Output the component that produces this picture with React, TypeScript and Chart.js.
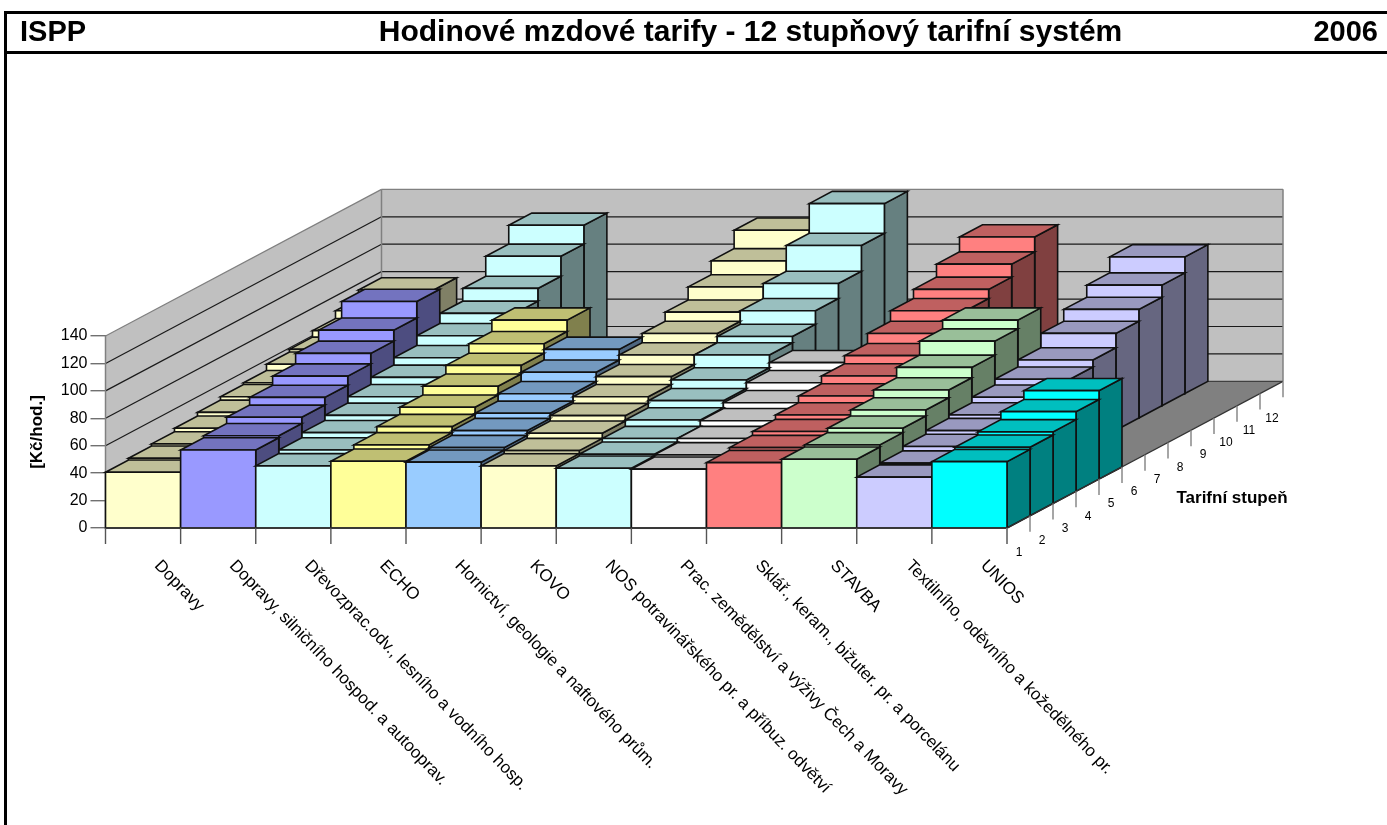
import React, { useEffect, useRef } from "react";
import { Chart, registerables } from "chart.js";

Chart.register(...registerables);

const categories = [
  "Dopravy",
  "Dopravy, silničního hospod. a autooprav.",
  "Dřevozprac.odv., lesního a vodního hosp.",
  "ECHO",
  "Hornictví, geologie a naftového prům.",
  "KOVO",
  "NOS potravinářského pr. a příbuz. odvětví",
  "Prac. zemědělství a výživy Čech a Moravy",
  "Sklář., keram., bižuter. pr. a porcelánu",
  "STAVBA",
  "Textilního, oděvního a kožedělného pr.",
  "UNIOS",
];
const tierLabels = ["1", "2", "3", "4", "5", "6", "7", "8", "9", "10", "11", "12"];
const yTicks = [0, 20, 40, 60, 80, 100, 120, 140];
const categoryColors = ["#FFFFCC", "#9999FF", "#CCFFFF", "#FFFF99", "#99CCFF", "#FFFFCC", "#CCFFFF", "#FFFFFF", "#FF8080", "#CCFFCC", "#CCCCFF", "#00FFFF"];

const tier1 = [40.7, 56.9, 45.3, 48.7, 48, 45.3, 43.6, 42.9, 47.7, 50.1, 37.1, 48.4];
const tier2 = [42, 58.4, 48, 51.7, 49.7, 47.5, 44.9, 44.4, 49.7, 51.7, 38.4, 50];
const tier3 = [43.5, 62.9, 51.7, 56.1, 53.2, 51.3, 47.4, 47.4, 52.5, 54.9, 41.6, 52.3];
const tier4 = [46, 68.5, 55.4, 61.3, 56.9, 55.2, 52, 51.5, 55.7, 59.3, 44.3, 58.1];
const tier5 = [48.7, 75.1, 60.1, 67.7, 62.3, 60.1, 57.2, 55.7, 60.6, 65, 46.8, 64.5];
const tier6 = [51.2, 82.8, 65.3, 74, 69, 65.8, 63.4, 61.4, 66.3, 72.6, 50.8, null];
const tier7 = [52.5, 90.8, 70.7, 80.9, 76.8, 72.7, 72.7, 67.1, 72.2, 82.8, 55, null];
const tier8 = [57, 102.8, 77.8, 89.2, null, 79.5, 77.3, null, 79.5, 89.2, 60.1, null];
const tier9 = [59, null, 85.2, null, null, 86.1, 87.1, null, 87.1, null, 70.6, null];
const tier10 = [63.7, null, 94.5, null, null, 95.6, 98.1, null, 93.8, null, 79.2, null];
const tier11 = [69.3, null, 109, null, null, 105.7, 116.9, null, 103.3, null, 88, null];
const tier12 = [75.5, null, 122.7, null, null, 119.1, 138.5, null, 114.2, null, 99.7, null];
const tiers = [tier1, tier2, tier3, tier4, tier5, tier6, tier7, tier8, tier9, tier10, tier11, tier12];

const W = 1387;
const H = 825;
const PLOT = { left: 105.5, right: 1007, top: 336, bottom: 528 };
const DX = 23;
const DY = -12.22;
const SANS = '"Liberation Sans", Arial, sans-serif';

function shade(hex: string, f: number) {
  const n = parseInt(hex.slice(1), 16);
  const r = Math.round(((n >> 16) & 255) * f);
  const g = Math.round(((n >> 8) & 255) * f);
  const b = Math.round((n & 255) * f);
  return `rgb(${r},${g},${b})`;
}

function poly(ctx: CanvasRenderingContext2D, pts: number[][], fill: string | null, stroke: string | null, lw = 1) {
  ctx.beginPath();
  pts.forEach((p, i) => (i ? ctx.lineTo(p[0], p[1]) : ctx.moveTo(p[0], p[1])));
  ctx.closePath();
  if (fill) {
    ctx.fillStyle = fill;
    ctx.fill();
  }
  if (stroke) {
    ctx.strokeStyle = stroke;
    ctx.lineWidth = lw;
    ctx.stroke();
  }
}

function line(ctx: CanvasRenderingContext2D, x1: number, y1: number, x2: number, y2: number, color: string, lw = 1) {
  ctx.beginPath();
  ctx.moveTo(x1, y1);
  ctx.lineTo(x2, y2);
  ctx.strokeStyle = color;
  ctx.lineWidth = lw;
  ctx.stroke();
}

function text(ctx: CanvasRenderingContext2D, s: string, x: number, y: number, font: string, align: CanvasTextAlign = "center", angle = 0) {
  ctx.save();
  ctx.translate(x, y);
  ctx.rotate(angle);
  ctx.font = font;
  ctx.fillStyle = "#000";
  ctx.textAlign = align;
  ctx.textBaseline = "middle";
  ctx.fillText(s, 0, 0);
  ctx.restore();
}

const bars3d = {
  id: "bars3d",
  beforeDatasetsDraw(chart: any) {
    const ctx: CanvasRenderingContext2D = chart.ctx;
    const xs = chart.scales.x;
    const ys = chart.scales.y;
    const y0 = ys.getPixelForValue(0);
    const left = chart.chartArea.left;
    const right = chart.chartArea.right;
    const n = tiers.length;
    const bw = (right - left) / categories.length;
    const backDx = DX * n;
    const backDy = DY * n;
    const yTop = ys.getPixelForValue(yTicks[yTicks.length - 1]);

    ctx.save();
    ctx.lineJoin = "miter";

    // page frame and header
    ctx.fillStyle = "#000";
    ctx.fillRect(4, 11, W - 4, 3);
    ctx.fillRect(4, 51, W - 4, 3);
    ctx.fillRect(4, 11, 3, H - 11);
    text(ctx, "ISPP", 20, 33, `bold 29px ${SANS}`, "left");
    text(ctx, "Hodinové mzdové tarify - 12 stupňový tarifní systém", 750.5, 33, `bold 30px ${SANS}`);
    text(ctx, "2006", 1378, 33, `bold 29px ${SANS}`, "right");

    // walls and floor
    poly(ctx, [[left, y0], [left + backDx, y0 + backDy], [right + backDx, y0 + backDy], [right, y0]], "#808080", null);
    poly(ctx, [[left, y0], [left + backDx, y0 + backDy], [left + backDx, yTop + backDy], [left, yTop]], "#C0C0C0", null);
    poly(ctx, [[left + backDx, y0 + backDy], [right + backDx, y0 + backDy], [right + backDx, yTop + backDy], [left + backDx, yTop + backDy]], "#C0C0C0", null);
    yTicks.forEach((v, i) => {
      const y = ys.getPixelForValue(v);
      const c = i === yTicks.length - 1 ? "#808080" : i === 0 ? "#404040" : "#1a1a1a";
      line(ctx, left, y, left + backDx, y + backDy, c, 1.2);
      line(ctx, left + backDx, y + backDy, right + backDx, y + backDy, c, 1.2);
    });
    line(ctx, left, y0, left, yTop, "#808080", 1.5);
    line(ctx, left + backDx, y0 + backDy, left + backDx, yTop + backDy, "#808080", 1.5);
    line(ctx, right + backDx, y0 + backDy, right + backDx, yTop + backDy, "#808080", 1.5);

    // bars, back to front
    for (let t = n - 1; t >= 0; t--) {
      const data = chart.data.datasets[t].data;
      for (let c = 0; c < categories.length; c++) {
        const v = data[c];
        if (v == null) continue;
        const color = categoryColors[c];
        const x1 = xs.getPixelForValue(c) - bw / 2 + DX * t;
        const x2 = x1 + bw;
        const yb = y0 + DY * t;
        const yt = ys.getPixelForValue(v) + DY * t;
        const lw = 1.6;
        poly(ctx, [[x2, yb], [x2 + DX, yb + DY], [x2 + DX, yt + DY], [x2, yt]], shade(color, 0.5), "#111", lw);
        poly(ctx, [[x1, yt], [x2, yt], [x2 + DX, yt + DY], [x1 + DX, yt + DY]], shade(color, 0.75), "#111", lw);
        poly(ctx, [[x1, yb], [x2, yb], [x2, yt], [x1, yt]], color, "#111", lw);
      }
    }

    // category axis
    line(ctx, left, y0, right, y0, "#333", 1.5);
    for (let c = 0; c <= categories.length; c++) {
      const x = left + bw * c;
      line(ctx, x, y0, x, y0 + 16, "#555", 1.4);
    }
    categories.forEach((label, c) => {
      text(ctx, label, xs.getPixelForValue(c) + 14, y0 + 35, `17px ${SANS}`, "left", (46 * Math.PI) / 180);
    });

    // depth axis
    line(ctx, right, y0, right + backDx, y0 + backDy, "#333", 1.2);
    for (let t = 0; t <= n; t++) {
      const x = right + DX * t;
      const y = y0 + DY * t;
      line(ctx, x, y, x, y + 16, "#808080", 1.4);
      if (t < n) text(ctx, tierLabels[t], x + DX / 2 + 0.5, y + DY / 2 + 31, `12px ${SANS}`);
    }
    text(ctx, "Tarifní stupeň", 1232, 498, `bold 17px ${SANS}`);
    text(ctx, "[Kč/hod.]", 37, 432, `bold 17px ${SANS}`, "center", -Math.PI / 2);

    ctx.restore();
    return false;
  },
};

export default function App() {
  const ref = useRef<HTMLCanvasElement>(null);
  useEffect(() => {
    document.body.style.margin = "0";
    document.body.style.background = "#fff";
    const chart = new Chart(ref.current as HTMLCanvasElement, {
      type: "bar",
      data: {
        labels: categories,
        datasets: tiers.map((data, i) => ({ label: tierLabels[i], data: data as any })),
      },
      options: {
        responsive: false,
        animation: false,
        devicePixelRatio: 1,
        layout: { padding: { left: 0, top: PLOT.top, right: W - PLOT.right, bottom: 0 } },
        plugins: { legend: { display: false }, tooltip: { enabled: false }, title: { display: false } },
        scales: {
          x: {
            type: "category",
            offset: true,
            border: { display: false },
            grid: { display: false },
            ticks: { display: false },
            afterFit: (s: any) => {
              s.height = H - PLOT.bottom;
            },
          },
          y: {
            type: "linear",
            min: 0,
            max: 140,
            border: { display: false },
            grid: { drawOnChartArea: false, drawTicks: true, tickLength: 15, lineWidth: 1.4, color: "#707070" },
            ticks: {
              stepSize: 20,
              padding: 3,
              color: "#000",
              font: { family: SANS, size: 16 },
            },
            afterFit: (s: any) => {
              s.width = PLOT.left;
            },
          },
        },
      } as any,
      plugins: [bars3d as any],
    });
    return () => chart.destroy();
  }, []);
  return (
    <div style={{ position: "absolute", left: 0, top: 0, width: W, height: H, background: "#fff" }}>
      <canvas ref={ref} width={W} height={H} style={{ display: "block", width: W, height: H }} />
    </div>
  );
}
